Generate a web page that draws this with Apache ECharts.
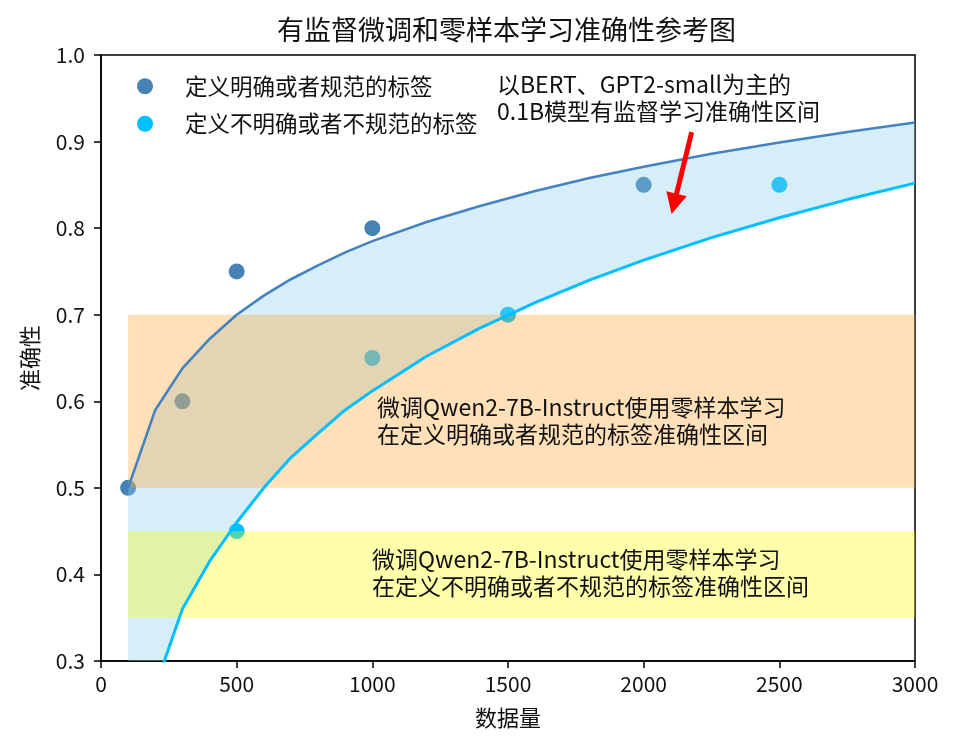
<!DOCTYPE html>
<html><head><meta charset="utf-8">
<script src="https://cdn.jsdelivr.net/npm/echarts@6/dist/echarts.min.js"></script>
<style>html,body{margin:0;padding:0;background:#fff}#c{width:960px;height:747px}</style>
</head><body><div id="c"></div>
<script>
// ---- data ----
const clearName = '定义明确或者规范的标签';
const vagueName = '定义不明确或者不规范的标签';
const clearX = [100, 300, 500, 1000, 2000];
const clearY = [0.50, 0.60, 0.75, 0.80, 0.85];
const vagueX = [500, 1000, 1500, 2500];
const vagueY = [0.45, 0.65, 0.70, 0.85];
const curveX = [100, 200, 300, 400, 500, 600, 700, 800, 900, 1000, 1200, 1400, 1600, 1800, 2000, 2250, 2500, 2750, 3000];
const upperY = [0.50, 0.59, 0.638, 0.672, 0.70, 0.722, 0.741, 0.757, 0.772, 0.785, 0.807, 0.826, 0.843, 0.858, 0.871, 0.886, 0.899, 0.911, 0.922];
const lowerY = [0.12, 0.27, 0.36, 0.415, 0.46, 0.50, 0.535, 0.563, 0.59, 0.612, 0.652, 0.685, 0.714, 0.74, 0.763, 0.789, 0.812, 0.833, 0.852];
const bandX = [100, 3000];
const bandClear = [0.5, 0.7];
const bandVague = [0.35, 0.45];
const arrowFrom = [2177, 0.911];
const arrowTo = [2112, 0.828];
const xTicks = [0, 500, 1000, 1500, 2000, 2500, 3000];
const yTicks = [0.3, 0.4, 0.5, 0.6, 0.7, 0.8, 0.9, 1.0];
const titleText = '有监督微调和零样本学习准确性参考图';
const noteText = '以BERT、GPT2-small为主的\n0.1B模型有监督学习准确性区间';
const bandClearText = '微调Qwen2-7B-Instruct使用零样本学习\n在定义明确或者规范的标签准确性区间';
const bandVagueText = '微调Qwen2-7B-Instruct使用零样本学习\n在定义不明确或者不规范的标签准确性区间';

const FONT = '"Noto Sans CJK SC", "Noto Sans", sans-serif';
const pairs = (xs, ys) => xs.map((x, i) => [x, ys[i]]);
const bandColors = ['rgba(255,160,40,0.33)', 'rgba(255,255,0,0.33)'];
const bandData = [
  [bandX[0], bandX[1], bandClear[0], bandClear[1], 0],
  [bandX[0], bandX[1], bandVague[0], bandVague[1], 1]
];

const chart = echarts.init(document.getElementById('c'));
chart.setOption({
  animation: false,
  backgroundColor: '#fff',
  textStyle: { fontFamily: FONT },
  title: {
    text: titleText, left: 277, top: 16, padding: 0,
    textStyle: { fontSize: 27, fontWeight: 'normal', color: '#111', fontFamily: FONT }
  },
  grid: { left: 101, right: 45, top: 55, bottom: 86, show: true, borderColor: '#000', borderWidth: 1.5 },
  legend: {
    orient: 'vertical', left: 137, top: 75, padding: 0,
    itemWidth: 16, itemHeight: 16, itemGap: 15,
    icon: 'circle',
    data: [clearName, vagueName],
    textStyle: { fontSize: 22.5, color: '#111', fontFamily: FONT, padding: [0, 0, 0, 27] }
  },
  xAxis: {
    type: 'value', min: xTicks[0], max: xTicks[xTicks.length - 1], interval: 500,
    name: '数据量', nameLocation: 'middle', nameGap: 46,
    nameTextStyle: { fontSize: 22, color: '#111', fontFamily: FONT },
    axisLine: { show: true, lineStyle: { color: '#000', width: 1.5 } },
    axisTick: { show: true, length: 7, lineStyle: { color: '#000', width: 1.5 } },
    axisLabel: { fontSize: 21, color: '#111', margin: 13, fontFamily: FONT, formatter: v => String(v) },
    splitLine: { show: false }
  },
  yAxis: {
    type: 'value', min: yTicks[0], max: yTicks[yTicks.length - 1], interval: 0.1,
    name: '准确性', nameLocation: 'middle', nameGap: 60,
    nameTextStyle: { fontSize: 22, color: '#111', fontFamily: FONT },
    axisLine: { show: true, lineStyle: { color: '#000', width: 1.5 } },
    axisTick: { show: true, length: 7, lineStyle: { color: '#000', width: 1.5 } },
    axisLabel: { fontSize: 21, color: '#111', margin: 16, fontFamily: FONT, formatter: v => v.toFixed(1) },
    splitLine: { show: false }
  },
  series: [
    { name: clearName, type: 'scatter', z: 1, symbolSize: 16, itemStyle: { color: '#4682B4', opacity: 1 }, data: pairs(clearX, clearY) },
    { name: vagueName, type: 'scatter', z: 1, symbolSize: 16, itemStyle: { color: '#00BFFF', opacity: 1 }, data: pairs(vagueX, vagueY) },
    { name: 'fillBetween', type: 'custom', z: 2, silent: true, clip: true,
      data: [[curveX[0], upperY[0]]],
      renderItem: function (params, api) {
        const pts = [];
        for (let i = 0; i < curveX.length; i++) pts.push(api.coord([curveX[i], upperY[i]]));
        for (let i = curveX.length - 1; i >= 0; i--) pts.push(api.coord([curveX[i], lowerY[i]]));
        const cs = params.coordSys;
        return {
          type: 'polygon',
          shape: { points: pts },
          clipPath: { type: 'rect', shape: { x: cs.x, y: cs.y, width: cs.width, height: cs.height } },
          style: { fill: 'rgba(135,206,235,0.35)', stroke: 'none' }
        };
      }
    },
    { name: 'bands', type: 'custom', z: 3, silent: true,
      encode: { x: [0, 1], y: [2, 3] },
      data: bandData,
      renderItem: function (params, api) {
        const p0 = api.coord([api.value(0), api.value(3)]);
        const p1 = api.coord([api.value(1), api.value(2)]);
        return {
          type: 'rect',
          shape: { x: p0[0], y: p0[1], width: p1[0] - p0[0], height: p1[1] - p0[1] },
          style: { fill: bandColors[api.value(4)], stroke: 'none' }
        };
      }
    },
    { name: 'upperLine', type: 'line', z: 4, symbol: 'none', silent: true,
      lineStyle: { color: '#4682C0', width: 2.6 }, data: pairs(curveX, upperY) },
    { name: 'lowerLine', type: 'line', z: 4, symbol: 'none', silent: true,
      lineStyle: { color: '#00BFFF', width: 3 }, data: pairs(curveX, lowerY) },
    { name: 'arrow', type: 'line', z: 5, data: [], silent: true,
      markLine: {
        silent: true, symbol: ['none', 'triangle'], symbolSize: [21, 21],
        label: { show: false },
        lineStyle: { color: '#FF0000', width: 5, type: 'solid' },
        data: [[{ coord: arrowFrom }, { coord: arrowTo }]]
      }
    }
  ],
  graphic: [
    { type: 'text', left: 497, top: 71, z: 10,
      style: { text: noteText, fontSize: 23, lineHeight: 27, fill: '#111', fontFamily: FONT } },
    { type: 'text', left: 377, top: 394, z: 10,
      style: { text: bandClearText, fontSize: 23, lineHeight: 27, fill: '#111', fontFamily: FONT } },
    { type: 'text', left: 372, top: 546, z: 10,
      style: { text: bandVagueText, fontSize: 23, lineHeight: 27, fill: '#111', fontFamily: FONT } }
  ]
});
</script>
</body></html>
